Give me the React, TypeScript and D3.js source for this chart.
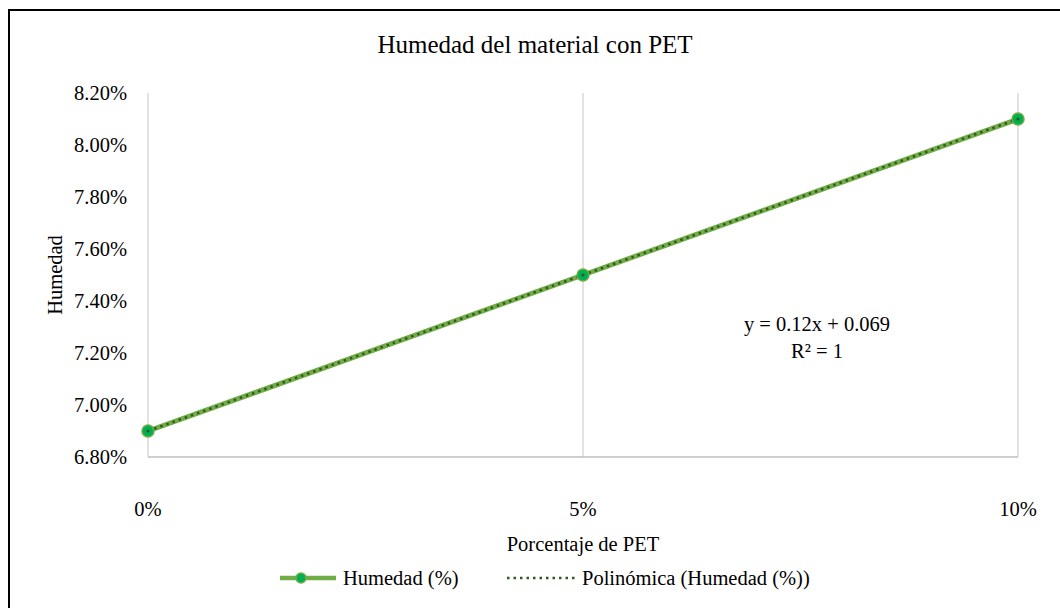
import { useEffect, useRef } from "react";
import * as d3 from "d3";

// Datos del gráfico
const pet = [0, 0.05, 0.1]; // porcentaje de PET
const humedad = [0.069, 0.075, 0.081]; // humedad medida
const xTicks = [0, 0.05, 0.1];
const yTicks = [0.068, 0.07, 0.072, 0.074, 0.076, 0.078, 0.08, 0.082];
const trend = { a: 0.12, b: 0.069 }; // y = 0.12x + 0.069

const FONT = "'Liberation Serif', 'Times New Roman', serif";
const FS = 20.5;

export default function App() {
  const ref = useRef<SVGSVGElement | null>(null);

  useEffect(() => {
    if (!ref.current) return;
    const svg = d3.select(ref.current);
    svg.selectAll("*").remove();

    const width = 1060;
    const height = 608;
    const margin = { top: 93, right: 42, bottom: 151, left: 148 };

    const x = d3.scaleLinear().domain([0, 0.1]).range([margin.left, width - margin.right]);
    const y = d3.scaleLinear().domain([0.068, 0.082]).range([height - margin.bottom, margin.top]);

    svg.append("rect").attr("width", width).attr("height", height).attr("fill", "#fff");

    // Borde del área del gráfico (cortado a la derecha y abajo)
    svg.append("rect")
      .attr("x", 9).attr("y", 10)
      .attr("width", 1200).attr("height", 800)
      .attr("fill", "none").attr("stroke", "#000").attr("stroke-width", 2);

    // Título
    svg.append("text")
      .attr("x", 535).attr("y", 53)
      .attr("text-anchor", "middle")
      .attr("font-family", FONT).attr("font-size", 25)
      .text("Humedad del material con PET");

    // Líneas verticales de cuadrícula
    svg.append("g").selectAll("line").data(xTicks).join("line")
      .attr("x1", d => x(d)).attr("x2", d => x(d))
      .attr("y1", y(0.082)).attr("y2", y(0.068))
      .attr("stroke", "#d9d9d9").attr("stroke-width", 1.5);

    // Eje x (línea inferior)
    svg.append("line")
      .attr("x1", x(0)).attr("x2", x(0.1))
      .attr("y1", y(0.068)).attr("y2", y(0.068))
      .attr("stroke", "#bfbfbf").attr("stroke-width", 1.5);

    // Etiquetas eje y
    const pctY = d3.format(".2%");
    svg.append("g").selectAll("text").data(yTicks).join("text")
      .attr("x", 127).attr("y", d => y(d))
      .attr("dy", "0.35em")
      .attr("text-anchor", "end")
      .attr("font-family", FONT).attr("font-size", FS)
      .text(d => pctY(d));

    // Etiquetas eje x
    const pctX = d3.format(".0%");
    svg.append("g").selectAll("text").data(xTicks).join("text")
      .attr("x", d => x(d)).attr("y", 516)
      .attr("text-anchor", "middle")
      .attr("font-family", FONT).attr("font-size", FS)
      .text(d => pctX(d));

    // Títulos de ejes
    svg.append("text")
      .attr("x", 583).attr("y", 551)
      .attr("text-anchor", "middle")
      .attr("font-family", FONT).attr("font-size", FS)
      .text("Porcentaje de PET");

    svg.append("text")
      .attr("transform", `translate(62,${(y(0.082) + y(0.068)) / 2}) rotate(-90)`)
      .attr("text-anchor", "middle")
      .attr("font-family", FONT).attr("font-size", FS)
      .text("Humedad");

    const data = pet.map((p, i) => ({ x: p, y: humedad[i] }));
    const line = d3.line<{ x: number; y: number }>().x(d => x(d.x)).y(d => y(d.y));

    // Serie
    svg.append("path")
      .datum(data)
      .attr("fill", "none")
      .attr("stroke", "#70ad47")
      .attr("stroke-width", 5)
      .attr("d", line);

    // Línea de tendencia
    const trendData = xTicks.filter((_, i) => i === 0 || i === xTicks.length - 1)
      .map(t => ({ x: t, y: trend.a * t + trend.b }));
    svg.append("path")
      .datum(trendData)
      .attr("fill", "none")
      .attr("stroke", "#375623")
      .attr("stroke-width", 2.5)
      .attr("stroke-dasharray", "2.5,4")
      .attr("d", line);

    // Marcadores
    svg.append("g").selectAll("circle").data(data).join("circle")
      .attr("cx", d => x(d.x)).attr("cy", d => y(d.y))
      .attr("r", 6)
      .attr("fill", "#00b050")
      .attr("stroke", "#70ad47")
      .attr("stroke-width", 1.5);
    svg.append("g").selectAll("circle").data(data).join("circle")
      .attr("cx", d => x(d.x)).attr("cy", d => y(d.y))
      .attr("r", 1.6)
      .attr("fill", "#375623");

    // Ecuación
    const eq = svg.append("text")
      .attr("font-family", FONT).attr("font-size", FS)
      .attr("text-anchor", "middle");
    eq.append("tspan").attr("x", 817).attr("y", 331).text("y = 0.12x + 0.069");
    eq.append("tspan").attr("x", 817).attr("y", 358).text("R² = 1");

    // Leyenda
    const ly = 578;
    svg.append("line")
      .attr("x1", 280).attr("x2", 336).attr("y1", ly).attr("y2", ly)
      .attr("stroke", "#70ad47").attr("stroke-width", 4.5);
    svg.append("circle")
      .attr("cx", 301).attr("cy", ly).attr("r", 5)
      .attr("fill", "#00b050").attr("stroke", "#70ad47").attr("stroke-width", 1.5);
    svg.append("text")
      .attr("x", 343).attr("y", ly).attr("dy", "0.35em")
      .attr("font-family", FONT).attr("font-size", FS)
      .text("Humedad (%)");
    svg.append("line")
      .attr("x1", 507).attr("x2", 575).attr("y1", ly).attr("y2", ly)
      .attr("stroke", "#375623").attr("stroke-width", 2.5)
      .attr("stroke-dasharray", "2.5,4");
    svg.append("text")
      .attr("x", 582).attr("y", ly).attr("dy", "0.35em")
      .attr("font-family", FONT).attr("font-size", FS)
      .text("Polinómica (Humedad (%))");
  }, []);

  return (
    <svg
      ref={ref}
      width={1060}
      height={608}
      style={{ position: "absolute", left: 0, top: 0, display: "block" }}
    />
  );
}
